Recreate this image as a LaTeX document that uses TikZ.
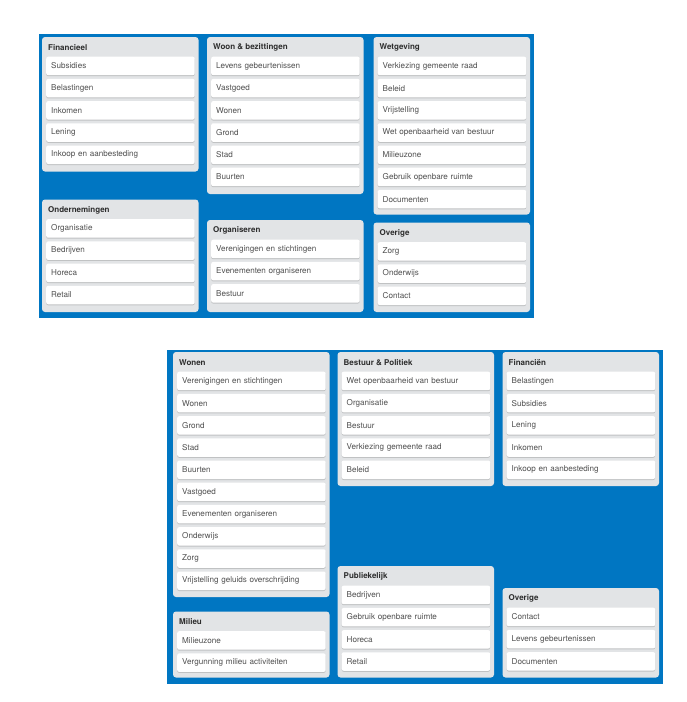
\documentclass[tikz,border=0pt]{standalone}
\usepackage{fontspec}
\setmainfont{TeX Gyre Heros}
\usepackage{xcolor}
\usetikzlibrary{shadows}
\definecolor{boardblue}{RGB}{0,118,194}
\definecolor{listgray}{RGB}{226,228,230}
\definecolor{titlegray}{RGB}{45,45,45}
\definecolor{cardgray}{RGB}{80,80,80}
\tikzset{
	board/.style={fill=boardblue},
	list/.style={fill=listgray, rounded corners=3pt},
	listtitle/.style={anchor=west, inner sep=0pt, text=titlegray, font=\bfseries\fontsize{8}{9}\selectfont},
	card/.style={anchor=north west, fill=white, rounded corners=2pt, text width=138.5pt, inner xsep=5pt, inner ysep=0pt, minimum height=18.5pt, align=left, text=cardgray, font=\fontsize{8.1}{9}\selectfont, drop shadow={shadow xshift=0pt, shadow yshift=-1pt, fill=black, opacity=0.15}}
}
\begin{document}
\begin{tikzpicture}[x=1pt,y=-1pt]
		\useasboundingbox (0,0) rectangle (687,702);
		\fill[board] (39,34) rectangle (534,318);
		\fill[list] (42,37) rectangle (198.5,171.5);
		\fill[list] (207,37) rectangle (363.5,194);
		\fill[list] (373.5,37) rectangle (530,214.5);
		\fill[list] (42,199.5) rectangle (198.5,312);
		\fill[list] (207,220) rectangle (363.5,312);
		\fill[list] (373.5,222.5) rectangle (530,312);
		\node[listtitle] (tFin) at (48,47.5) {Financieel};
		\node[card] (fin1) at (46,56.5) {Subsidies};
		\node[card] (fin2) at (46,78.7) {Belastingen};
		\node[card] (fin3) at (46,100.9) {Inkomen};
		\node[card] (fin4) at (46,123.1) {Lening};
		\node[card] (fin5) at (46,145.3) {Inkoop en aanbesteding};
		\node[listtitle] (tWoon) at (213,47.5) {Woon \& bezittingen};
		\node[card] (woon1) at (211,56.5) {Levens gebeurtenissen};
		\node[card] (woon2) at (211,78.7) {Vastgoed};
		\node[card] (woon3) at (211,100.9) {Wonen};
		\node[card] (woon4) at (211,123.1) {Grond};
		\node[card] (woon5) at (211,145.3) {Stad};
		\node[card] (woon6) at (211,167.5) {Buurten};
		\node[listtitle] (tWet) at (379.5,47.5) {Wetgeving};
		\node[card] (wet1) at (377.5,56.5) {Verkiezing gemeente raad};
		\node[card] (wet2) at (377.5,78.7) {Beleid};
		\node[card] (wet3) at (377.5,100.9) {Vrijstelling};
		\node[card] (wet4) at (377.5,123.1) {Wet openbaarheid van bestuur};
		\node[card] (wet5) at (377.5,145.3) {Milieuzone};
		\node[card] (wet6) at (377.5,167.5) {Gebruik openbare ruimte};
		\node[card] (wet7) at (377.5,189.7) {Documenten};
		\node[listtitle] (tOnd) at (48,210) {Ondernemingen};
		\node[card] (ond1) at (46,219) {Organisatie};
		\node[card] (ond2) at (46,241.2) {Bedrijven};
		\node[card] (ond3) at (46,263.4) {Horeca};
		\node[card] (ond4) at (46,285.6) {Retail};
		\node[listtitle] (tOrg) at (213,230.5) {Organiseren};
		\node[card] (org1) at (211,239.5) {Verenigingen en stichtingen};
		\node[card] (org2) at (211,261.7) {Evenementen organiseren};
		\node[card] (org3) at (211,283.9) {Bestuur};
		\node[listtitle] (tOv) at (379.5,233) {Overige};
		\node[card] (ov1) at (377.5,242) {Zorg};
		\node[card] (ov2) at (377.5,264.2) {Onderwijs};
		\node[card] (ov3) at (377.5,286.4) {Contact};
		\fill[board] (167,350) rectangle (663,683.5);
		\fill[list] (173,352) rectangle (329.5,597);
		\fill[list] (337.5,352) rectangle (494,486);
		\fill[list] (502.5,352) rectangle (659,486);
		\fill[list] (173,611.5) rectangle (329.5,677.5);
		\fill[list] (337.5,566) rectangle (494,677.5);
		\fill[list] (502.5,588) rectangle (659,677.5);
		\node[listtitle] (tWon) at (179,362.5) {Wonen};
		\node[card] (won1) at (177,371.5) {Verenigingen en stichtingen};
		\node[card] (won2) at (177,393.7) {Wonen};
		\node[card] (won3) at (177,415.9) {Grond};
		\node[card] (won4) at (177,438.1) {Stad};
		\node[card] (won5) at (177,460.3) {Buurten};
		\node[card] (won6) at (177,482.5) {Vastgoed};
		\node[card] (won7) at (177,504.7) {Evenementen organiseren};
		\node[card] (won8) at (177,526.9) {Onderwijs};
		\node[card] (won9) at (177,549.1) {Zorg};
		\node[card] (won10) at (177,571.3) {Vrijstelling geluids overschrijding};
		\node[listtitle] (tBes) at (343.5,362.5) {Bestuur \& Politiek};
		\node[card] (bes1) at (341.5,371.5) {Wet openbaarheid van bestuur};
		\node[card] (bes2) at (341.5,393.7) {Organisatie};
		\node[card] (bes3) at (341.5,415.9) {Bestuur};
		\node[card] (bes4) at (341.5,438.1) {Verkiezing gemeente raad};
		\node[card] (bes5) at (341.5,460.3) {Beleid};
		\node[listtitle] (tFi) at (508.5,362.5) {Financiën};
		\node[card] (fi1) at (506.5,371.5) {Belastingen};
		\node[card] (fi2) at (506.5,393.7) {Subsidies};
		\node[card] (fi3) at (506.5,415.9) {Lening};
		\node[card] (fi4) at (506.5,438.1) {Inkomen};
		\node[card] (fi5) at (506.5,460.3) {Inkoop en aanbesteding};
		\node[listtitle] (tMil) at (179,622) {Milieu};
		\node[card] (mil1) at (177,631) {Milieuzone};
		\node[card] (mil2) at (177,653.2) {Vergunning milieu activiteiten};
		\node[listtitle] (tPub) at (343.5,576.5) {Publiekelijk};
		\node[card] (pub1) at (341.5,585.5) {Bedrijven};
		\node[card] (pub2) at (341.5,607.7) {Gebruik openbare ruimte};
		\node[card] (pub3) at (341.5,629.9) {Horeca};
		\node[card] (pub4) at (341.5,652.1) {Retail};
		\node[listtitle] (tOve) at (508.5,598.5) {Overige};
		\node[card] (ove1) at (506.5,607.5) {Contact};
		\node[card] (ove2) at (506.5,629.7) {Levens gebeurtenissen};
		\node[card] (ove3) at (506.5,651.9) {Documenten};
	\end{tikzpicture}
\end{document}
